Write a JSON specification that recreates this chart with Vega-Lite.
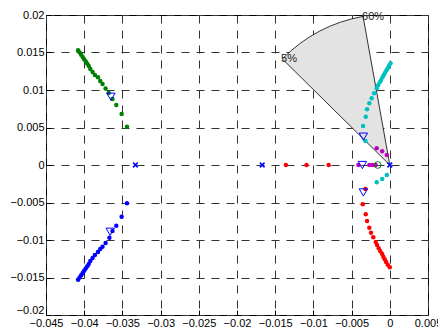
{
  "$schema": "https://vega.github.io/schema/vega-lite/v6.json",
  "width": 382,
  "height": 300,
  "autosize": {"type": "none"},
  "padding": {"left": 46, "top": 15, "right": 10, "bottom": 16},
  "background": "white",
  "config": {
    "view": {"stroke": "black", "strokeWidth": 1},
    "axis": {
      "grid": true,
      "gridColor": "#333333",
      "gridDash": [8, 7],
      "gridWidth": 1,
      "gridOpacity": 1,
      "domain": false,
      "ticks": true,
      "tickColor": "black",
      "tickSize": -5,
      "labelPadding": 7,
      "labelFont": "Liberation Sans",
      "labelFontSize": 11,
      "labelColor": "black",
      "labelFlush": false,
      "labelOverlap": false,
      "title": null,
      "format": "~g"
    }
  },
  "datasets": {
    "pts": [
      {"x": -0.0408, "y": 0.0153, "s": "g"},
      {"x": -0.0406, "y": 0.0150, "s": "g"},
      {"x": -0.0404, "y": 0.0147, "s": "g"},
      {"x": -0.0402, "y": 0.0144, "s": "g"},
      {"x": -0.0400, "y": 0.0141, "s": "g"},
      {"x": -0.0398, "y": 0.0138, "s": "g"},
      {"x": -0.0396, "y": 0.0135, "s": "g"},
      {"x": -0.0394, "y": 0.0132, "s": "g"},
      {"x": -0.0392, "y": 0.0128, "s": "g"},
      {"x": -0.0389, "y": 0.0124, "s": "g"},
      {"x": -0.0386, "y": 0.0120, "s": "g"},
      {"x": -0.0382, "y": 0.0117, "s": "g"},
      {"x": -0.0379, "y": 0.0112, "s": "g"},
      {"x": -0.0376, "y": 0.0108, "s": "g"},
      {"x": -0.0372, "y": 0.0102, "s": "g"},
      {"x": -0.0368, "y": 0.0096, "s": "g"},
      {"x": -0.0363, "y": 0.0088, "s": "g"},
      {"x": -0.0358, "y": 0.0080, "s": "g"},
      {"x": -0.0351, "y": 0.0068, "s": "g"},
      {"x": -0.0344, "y": 0.0051, "s": "g"},
      {"x": -0.0408, "y": -0.0153, "s": "b"},
      {"x": -0.0406, "y": -0.0150, "s": "b"},
      {"x": -0.0404, "y": -0.0147, "s": "b"},
      {"x": -0.0402, "y": -0.0144, "s": "b"},
      {"x": -0.0400, "y": -0.0141, "s": "b"},
      {"x": -0.0398, "y": -0.0138, "s": "b"},
      {"x": -0.0396, "y": -0.0135, "s": "b"},
      {"x": -0.0394, "y": -0.0132, "s": "b"},
      {"x": -0.0392, "y": -0.0128, "s": "b"},
      {"x": -0.0389, "y": -0.0124, "s": "b"},
      {"x": -0.0386, "y": -0.0120, "s": "b"},
      {"x": -0.0382, "y": -0.0116, "s": "b"},
      {"x": -0.0379, "y": -0.0112, "s": "b"},
      {"x": -0.0376, "y": -0.0109, "s": "b"},
      {"x": -0.0372, "y": -0.0104, "s": "b"},
      {"x": -0.0367, "y": -0.0097, "s": "b"},
      {"x": -0.0363, "y": -0.0088, "s": "b"},
      {"x": -0.0358, "y": -0.0081, "s": "b"},
      {"x": -0.0351, "y": -0.0069, "s": "b"},
      {"x": -0.0344, "y": -0.0051, "s": "b"},
      {"x": 0.0001, "y": 0.01356, "s": "c"},
      {"x": -0.00009, "y": 0.01324, "s": "c"},
      {"x": -0.00026, "y": 0.01293, "s": "c"},
      {"x": -0.00044, "y": 0.01262, "s": "c"},
      {"x": -0.00062, "y": 0.01231, "s": "c"},
      {"x": -0.00079, "y": 0.0120, "s": "c"},
      {"x": -0.00096, "y": 0.01169, "s": "c"},
      {"x": -0.00113, "y": 0.01133, "s": "c"},
      {"x": -0.00131, "y": 0.01102, "s": "c"},
      {"x": -0.00153, "y": 0.01062, "s": "c"},
      {"x": -0.00171, "y": 0.01022, "s": "c"},
      {"x": -0.00206, "y": 0.00956, "s": "c"},
      {"x": -0.00237, "y": 0.00889, "s": "c"},
      {"x": -0.00268, "y": 0.00822, "s": "c"},
      {"x": -0.00298, "y": 0.00742, "s": "c"},
      {"x": -0.00315, "y": 0.00644, "s": "c"},
      {"x": -0.0035, "y": 0.0052, "s": "c"},
      {"x": -0.00318, "y": 0.0032, "s": "c"},
      {"x": -0.00171, "y": -0.00231, "s": "c"},
      {"x": -0.0010, "y": -0.00187, "s": "c"},
      {"x": -0.00039, "y": -0.00133, "s": "c"},
      {"x": -0.0136, "y": 0, "s": "r"},
      {"x": -0.0109, "y": 0, "s": "r"},
      {"x": -0.0080, "y": 0, "s": "r"},
      {"x": -0.00318, "y": -0.0032, "s": "r"},
      {"x": -0.00355, "y": -0.00524, "s": "r"},
      {"x": -0.00315, "y": -0.00657, "s": "r"},
      {"x": -0.00298, "y": -0.00747, "s": "r"},
      {"x": -0.00268, "y": -0.00836, "s": "r"},
      {"x": -0.00246, "y": -0.00903, "s": "r"},
      {"x": -0.00216, "y": -0.00964, "s": "r"},
      {"x": -0.00184, "y": -0.01027, "s": "r"},
      {"x": -0.00167, "y": -0.01067, "s": "r"},
      {"x": -0.00145, "y": -0.01111, "s": "r"},
      {"x": -0.00124, "y": -0.0115, "s": "r"},
      {"x": -0.0010, "y": -0.01187, "s": "r"},
      {"x": -0.00085, "y": -0.01222, "s": "r"},
      {"x": -0.00066, "y": -0.01258, "s": "r"},
      {"x": -0.00049, "y": -0.01293, "s": "r"},
      {"x": -0.00027, "y": -0.01329, "s": "r"},
      {"x": 0, "y": -0.01364, "s": "r"},
      {"x": -0.00171, "y": 0.00222, "s": "m"},
      {"x": -0.0010, "y": 0.00183, "s": "m"},
      {"x": -0.00039, "y": 0.00133, "s": "m"},
      {"x": -0.00411, "y": 0, "s": "m"},
      {"x": -0.00268, "y": 0, "s": "m"},
      {"x": -0.00225, "y": 0, "s": "m"},
      {"x": -0.00185, "y": 0, "s": "m"}
    ],
    "tri": [
      {"x": -0.0365, "y": 0.0091},
      {"x": -0.0366, "y": -0.0089},
      {"x": -0.00346, "y": 0.00378},
      {"x": -0.00359, "y": 0},
      {"x": -0.00346, "y": -0.00366}
    ],
    "xm": [
      {"x": -0.0333, "y": 0},
      {"x": -0.0167, "y": 0},
      {"x": 0, "y": 0}
    ],
    "circ": [
      {"x": -0.00158, "y": 0}
    ],
    "wedge": [
      {"x": 0, "y": 0}
    ],
    "lbl": [
      {"x": -0.0141, "y": 0.0141, "t": "5%"},
      {"x": -0.0035, "y": 0.0198, "t": "60%"}
    ]
  },
  "encoding": {
    "x": {
      "field": "x",
      "type": "quantitative",
      "scale": {"domain": [-0.045, 0.005], "nice": false, "zero": false},
      "axis": {"values": [-0.045, -0.04, -0.035, -0.03, -0.025, -0.02, -0.015, -0.01, -0.005, 0, 0.005]}
    },
    "y": {
      "field": "y",
      "type": "quantitative",
      "scale": {"domain": [-0.02, 0.02], "nice": false, "zero": false},
      "axis": {
        "values": [-0.02, -0.015, -0.01, -0.005, 0, 0.005, 0.01, 0.015, 0.02],
        "labelBaseline": {"condition": {"test": "datum.value <= -0.02", "value": "bottom"}, "value": "middle"}
      }
    }
  },
  "layer": [
    {
      "data": {"name": "wedge"},
      "mark": {"type": "arc", "theta": -0.792, "theta2": -0.178, "radius": 151, "fill": "#e3e3e3", "stroke": "black", "strokeWidth": 0.8}
    },
    {
      "data": {"name": "pts"},
      "mark": {"type": "point", "shape": "circle", "filled": true, "size": 20, "opacity": 1},
      "encoding": {
        "color": {
          "field": "s",
          "type": "nominal",
          "scale": {"domain": ["g", "b", "c", "r", "m"], "range": ["#008000", "#0000ff", "#00bfbf", "#ff0000", "#bf00bf"]},
          "legend": null
        }
      }
    },
    {
      "data": {"name": "tri"},
      "mark": {"type": "point", "shape": "triangle-down", "filled": false, "size": 70, "stroke": "#0000ff", "strokeWidth": 1, "opacity": 1}
    },
    {
      "data": {"name": "xm"},
      "mark": {"type": "point", "shape": "M-1,-1L1,1M-1,1L1,-1", "filled": false, "size": 22, "stroke": "#0000ff", "strokeWidth": 1.5, "opacity": 1}
    },
    {
      "data": {"name": "circ"},
      "mark": {"type": "point", "shape": "circle", "filled": false, "size": 45, "stroke": "#008000", "strokeWidth": 1, "opacity": 1}
    },
    {
      "data": {"name": "lbl"},
      "mark": {"type": "text", "align": "left", "baseline": "middle", "dx": -1, "font": "Liberation Sans", "fontSize": 11, "color": "#222222"},
      "encoding": {"text": {"field": "t", "type": "nominal"}}
    }
  ]
}
